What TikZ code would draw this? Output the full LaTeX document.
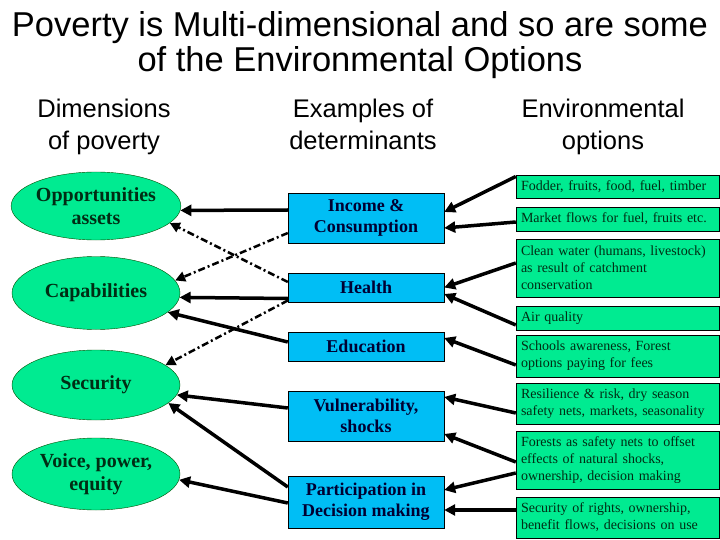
\documentclass[tikz,border=0pt]{standalone}
\usepackage{fontspec}
\setmainfont{Liberation Serif}
\newfontfamily\headfont{Liberation Sans}
\usetikzlibrary{shapes.geometric,arrows.meta}

\definecolor{dimgreen}{RGB}{0,235,145}
\definecolor{detblue}{RGB}{0,190,245}
\definecolor{dimtext}{RGB}{0,45,20}
\definecolor{dettext}{RGB}{0,0,50}

\tikzset{
  dimension/.style={ellipse, draw=black!70!green, fill=dimgreen, minimum width=168pt,
    inner sep=0pt, align=center, text=dimtext, font=\fontsize{20}{23}\selectfont\bfseries},
  determinant/.style={rectangle, draw=black, fill=detblue, minimum width=156pt,
    align=center, text=dettext, font=\fontsize{18}{21}\selectfont\bfseries},
  option/.style={rectangle, draw=black, fill=dimgreen, text width=193pt, inner xsep=5pt,
    inner ysep=2pt, align=left, text=dimtext, font=\fontsize{14}{17}\selectfont},
  heading/.style={align=center, font=\headfont\fontsize{25.5}{32}\selectfont},
  solidlink/.style={line width=3.5pt, -{Triangle[length=11pt,width=11pt]}},
  dashlink/.style={line width=2.5pt, dash pattern=on 7pt off 3pt on 2pt off 3pt,
    -{Triangle[length=10pt,width=10pt]}}
}

\begin{document}
\begin{tikzpicture}[x=1pt,y=-1pt]
    \useasboundingbox (0,0) rectangle (720,540);

    % --- title and column headings ---
    \node[anchor=base, align=center, font=\headfont\fontsize{34.5}{35}\selectfont] (title) at (360,72)
        {Poverty is Multi-dimensional and so are some\\of the Environmental Options};
    \node[heading, anchor=base] (hdim) at (104,150) {Dimensions\\of poverty};
    \node[heading, anchor=base] (hdet) at (363,150) {Examples of\\determinants};
    \node[heading, anchor=base] (hopt) at (603,150) {Environmental\\options};

    % --- dimensions of poverty (ellipses) ---
    \node[dimension, minimum height=68pt] (opp) at (96,206) {Opportunities\\assets};
    \node[dimension, minimum height=73pt] (cap) at (96,293) {Capabilities};
    \node[dimension, minimum height=70pt] (sec) at (96,385) {Security};
    \node[dimension, minimum height=72pt] (voi) at (96,474) {Voice, power,\\equity};

    % --- determinants (blue boxes) ---
    \node[determinant, minimum height=50pt] (inc) at (366,218) {Income \&\\Consumption};
    \node[determinant, minimum height=29pt] (hea) at (366,287.5) {Health};
    \node[determinant, minimum height=29pt] (edu) at (366,346.5) {Education};
    \node[determinant, minimum height=50pt] (vul) at (366,416) {Vulnerability,\\shocks};
    \node[determinant, minimum height=52pt] (par) at (366,502) {Participation in\\Decision making};

    % --- environmental options (green boxes) ---
    \node[option, minimum height=23pt] (fod) at (617.5,186.5) {Fodder, fruits, food, fuel, timber};
    \node[option, minimum height=24pt] (mkt) at (617.5,219) {Market flows for fuel, fruits etc.};
    \node[option, minimum height=58pt] (wat) at (617.5,268) {Clean water (humans, livestock)\\as result of catchment\\conservation};
    \node[option, minimum height=24pt] (air) at (617.5,318) {Air quality};
    \node[option, minimum height=42pt] (sch) at (617.5,356) {Schools awareness, Forest\\options paying for fees};
    \node[option, minimum height=41pt] (res) at (617.5,403.5) {Resilience \& risk, dry season\\safety nets, markets, seasonality};
    \node[option, minimum height=58pt] (frs) at (617.5,460) {Forests as safety nets to offset\\effects of natural shocks,\\ownership, decision making};
    \node[option, minimum height=41pt] (rig) at (617.5,517.5) {Security of rights, ownership,\\benefit flows, decisions on use};

    % --- options -> determinants ---
    \draw[solidlink] ([yshift=10pt]fod.west) -- ([yshift=6pt]inc.east);
    \draw[solidlink] ([yshift=-3pt]mkt.west) -- ([yshift=-10pt]inc.east);
    \draw[solidlink] ([yshift=5pt]wat.west) -- ([yshift=0pt]hea.east);
    \draw[solidlink] ([yshift=-7pt]air.west) -- ([yshift=-6.5pt]hea.east);
    \draw[solidlink] ([yshift=-9pt]sch.west) -- ([yshift=8.5pt]edu.east);
    \draw[solidlink] ([yshift=-9.5pt]res.west) -- ([yshift=19pt]vul.east);
    \draw[solidlink] ([yshift=-2pt]frs.west) -- ([yshift=-18pt]vul.east);
    \draw[solidlink] ([yshift=-13pt]frs.west) -- ([yshift=12pt]par.east);
    \draw[solidlink] ([yshift=7.5pt]rig.west) -- ([yshift=-8pt]par.east);

    % --- determinants -> dimensions ---
    \draw[solidlink] ([yshift=8pt]inc.west) -- (opp.-3);
    \draw[dashlink] ([yshift=-15pt]inc.west) -- (cap.9);
    \draw[dashlink] ([yshift=5.5pt]hea.west) -- (opp.-13);
    \draw[solidlink] ([yshift=-11pt]hea.west) -- (cap.-3);
    \draw[dashlink] ([yshift=-13pt]hea.west) -- (sec.16);
    \draw[solidlink] ([yshift=4.5pt]edu.west) -- (cap.-15);
    \draw[solidlink] ([yshift=8pt]vul.west) -- (sec.-7);
    \draw[solidlink] ([yshift=15pt]par.west) -- (sec.-14);
    \draw[solidlink] ([yshift=-1pt]par.west) -- (voi.-4);

\end{tikzpicture}
\end{document}
